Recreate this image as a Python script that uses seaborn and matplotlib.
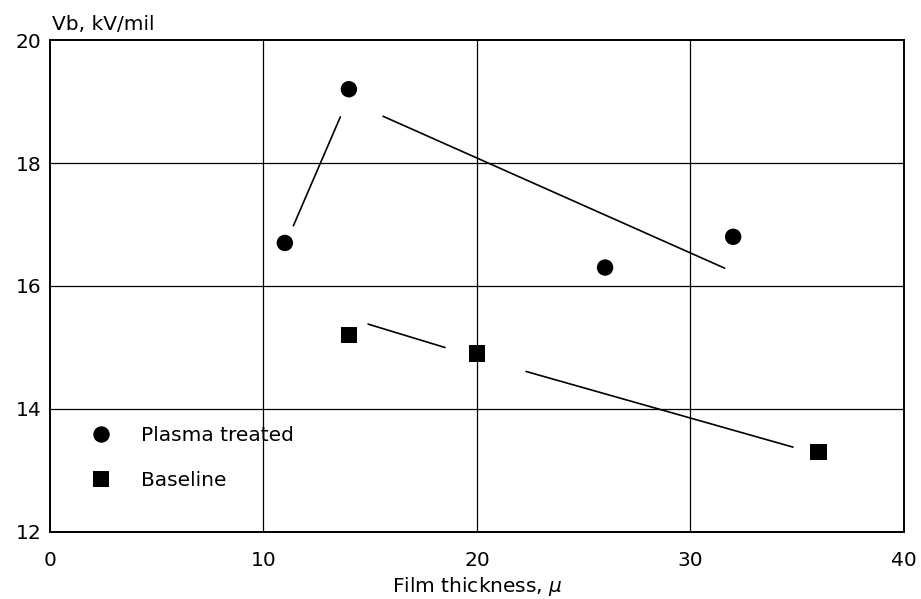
import matplotlib
matplotlib.use("Agg")
import matplotlib.pyplot as plt
import seaborn as sns
import pandas as pd

# ---- data ----
plasma_x = [11, 14, 26, 32]
plasma_y = [16.7, 19.2, 16.3, 16.8]
baseline_x = [14, 20, 36]
baseline_y = [15.2, 14.9, 13.3]

# fitted line segments (start/end x, start/end y)
plasma_fit1_x = [11.4, 13.6]
plasma_fit1_y = [16.98, 18.75]
plasma_fit2_x = [15.6, 31.6]
plasma_fit2_y = [18.76, 16.29]
baseline_fit1_x = [14.9, 18.5]
baseline_fit1_y = [15.38, 15.0]
baseline_fit2_x = [22.3, 34.8]
baseline_fit2_y = [14.61, 13.38]

x_ticks = [0, 10, 20, 30, 40]
y_ticks = [12, 14, 16, 18, 20]
series_names = ["Plasma treated", "Baseline"]

df = pd.DataFrame({
    "x": plasma_x + baseline_x,
    "y": plasma_y + baseline_y,
    "series": [series_names[0]] * len(plasma_x) + [series_names[1]] * len(baseline_x),
})

sns.set_style("white")
plt.rcParams["font.family"] = ["DejaVu Sans"]
plt.rcParams["mathtext.fontset"] = "dejavusans"
plt.rcParams["text.color"] = "black"
plt.rcParams["xtick.color"] = "black"
plt.rcParams["ytick.color"] = "black"
plt.rcParams["axes.labelcolor"] = "black"
FS = 14.5

fig = plt.figure(figsize=(9.21, 5.99), dpi=100)
ax = fig.add_axes([0.0543, 0.1119, 0.9272, 0.8213])

# grid
for gx in x_ticks[1:-1]:
    ax.axvline(gx, color="black", lw=0.9, zorder=1)
for gy in y_ticks[1:-1]:
    ax.axhline(gy, color="black", lw=0.9, zorder=1)

# fit segments
for sx, sy in [(plasma_fit1_x, plasma_fit1_y), (plasma_fit2_x, plasma_fit2_y),
               (baseline_fit1_x, baseline_fit1_y), (baseline_fit2_x, baseline_fit2_y)]:
    ax.plot(sx, sy, color="black", lw=1.2, zorder=2)

sns.scatterplot(data=df, x="x", y="y", hue="series", style="series",
                palette={series_names[0]: "black", series_names[1]: "black"},
                markers={series_names[0]: "o", series_names[1]: "s"},
                s=140, edgecolor="black", linewidth=0, ax=ax, zorder=3)

ax.set_xlim(0, 40)
ax.set_ylim(12, 20)
ax.set_xticks(x_ticks)
ax.set_yticks(y_ticks)
ax.tick_params(axis="x", length=0, labelsize=FS, pad=14, labelcolor="black")
ax.tick_params(axis="y", length=0, labelsize=FS, pad=6, labelcolor="black")
for sp in ax.spines.values():
    sp.set_color("black")
    sp.set_linewidth(1.4)

ax.set_xlabel("Film thickness, $\\mu$", fontsize=FS, labelpad=3, color="black")
ax.set_ylabel("")
fig.text(0.0565, 0.944, "Vb, kV/mil", fontsize=FS, ha="left", va="bottom", color="black")

leg = ax.legend(loc="upper left", bbox_to_anchor=(0.015, 0.252), frameon=False,
                fontsize=FS, handletextpad=1.0, labelspacing=1.3, markerscale=1.0)
for t in leg.get_texts():
    t.set_color("black")

fig.savefig("out.png", dpi=100)
